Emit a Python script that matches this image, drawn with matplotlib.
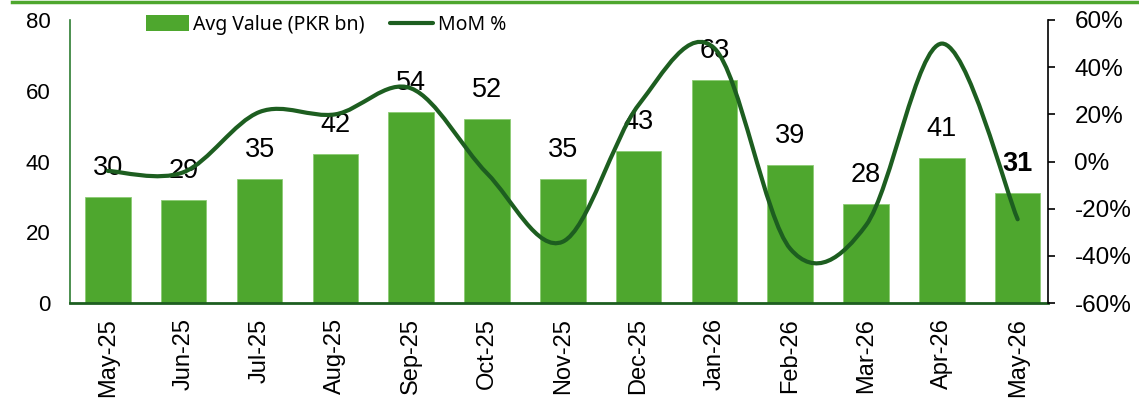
import numpy as np
import matplotlib
matplotlib.use("Agg")
import matplotlib.pyplot as plt
from matplotlib.path import Path
from matplotlib.patches import PathPatch
from matplotlib.lines import Line2D
from matplotlib.patches import Patch
from matplotlib.ticker import FuncFormatter

months = ["May-25", "Jun-25", "Jul-25", "Aug-25", "Sep-25", "Oct-25", "Nov-25",
          "Dec-25", "Jan-26", "Feb-26", "Mar-26", "Apr-26", "May-26"]
avg_value = [30, 29, 35, 42, 54, 52, 35, 43, 63, 39, 28, 41, 31]
mom_pct = [-4, -4.5, 21, 20, 31, -5, -34, 24, 48, -37, -27, 50, -24.5]

BAR_GREEN = "#4EA72E"
LINE_GREEN = "#1D5E20"
FONT = "Liberation Sans"

plt.rcParams['font.family'] = [FONT, 'DejaVu Sans']

fig = plt.figure(figsize=(11.39, 4.07), dpi=100)
ax = fig.add_axes([70/1139, 1-303/407, (1048-70)/1139, (303-20)/407])
ax2 = ax.twinx()

x = np.arange(len(months))
bars = ax.bar(x, avg_value, width=0.6, color=BAR_GREEN, edgecolor="#8ccc74",
              linewidth=0.6, zorder=2)
ax.set_ylim(0, 80)
ax.set_xlim(-0.5, 12.4)
ax.set_yticks([0, 20, 40, 60, 80])
ax.set_xticks(x)
ax.set_xticklabels(months, rotation=90, fontsize=17)
ax.tick_params(axis='y', length=0, labelsize=16, pad=14)
ax.tick_params(axis='x', length=0, pad=11)
for s in ["top", "right"]:
    ax.spines[s].set_visible(False)
ax.spines["left"].set_color("#2E7D32")
ax.spines["left"].set_linewidth(1.2)
ax.spines["bottom"].set_color(LINE_GREEN)
ax.spines["bottom"].set_linewidth(2)

# data labels
for i, v in enumerate(avg_value):
    ax.annotate(str(v), (x[i], v), xytext=(0, 21), textcoords="offset points",
                ha="center", va="center", fontsize=19.5,
                fontweight="bold" if i == len(avg_value) - 1 else "normal",
                zorder=5)

# smoothed MoM line (Excel-style Catmull-Rom Bezier)
px = x.astype(float)
py = np.array(mom_pct, dtype=float)
n = len(px)
verts = [(px[0], py[0])]
codes = [Path.MOVETO]
for i in range(n - 1):
    i0 = max(i - 1, 0)
    i3 = min(i + 2, n - 1)
    c1 = (px[i] + (px[i + 1] - px[i0]) / 6, py[i] + (py[i + 1] - py[i0]) / 6)
    c2 = (px[i + 1] - (px[i3] - px[i]) / 6, py[i + 1] - (py[i3] - py[i]) / 6)
    verts += [c1, c2, (px[i + 1], py[i + 1])]
    codes += [Path.CURVE4, Path.CURVE4, Path.CURVE4]
ax2.add_patch(PathPatch(Path(verts, codes), facecolor="none", edgecolor=LINE_GREEN,
                        linewidth=3, capstyle="round", zorder=3))
ax2.set_ylim(-60, 60)
ax2.set_yticks([-60, -40, -20, 0, 20, 40, 60])
ax2.yaxis.set_major_formatter(FuncFormatter(lambda v, p: f"{int(v)}%"))
ax2.tick_params(axis='y', length=5, width=1.2, labelsize=17.5, pad=14, color="black")
for s in ["top", "left", "bottom"]:
    ax2.spines[s].set_visible(False)
ax2.spines["right"].set_color("black")
ax2.spines["right"].set_linewidth(1.2)

ax.set_zorder(1)
ax2.set_zorder(2)
ax2.patch.set_visible(False)

# legend
handles = [Patch(facecolor=BAR_GREEN, edgecolor="none"),
           Line2D([0], [0], color=LINE_GREEN, linewidth=3, solid_capstyle="round")]
fig.legend(handles, ["Avg Value (PKR bn)", "MoM %"], loc="center left",
           bbox_to_anchor=(138/1139, 1-25/407), ncol=2, frameon=False,
           prop={"family": "Noto Sans", "size": 14}, handlelength=2.2,
           handleheight=0.9, handletextpad=0.25, columnspacing=1.3, borderaxespad=0)

# top decorative rule
fig.add_artist(Line2D([12/1139, 1], [1-1.5/407, 1-1.5/407], color=BAR_GREEN,
                      linewidth=2.5, transform=fig.transFigure))

fig.savefig("out.png", dpi=100)
